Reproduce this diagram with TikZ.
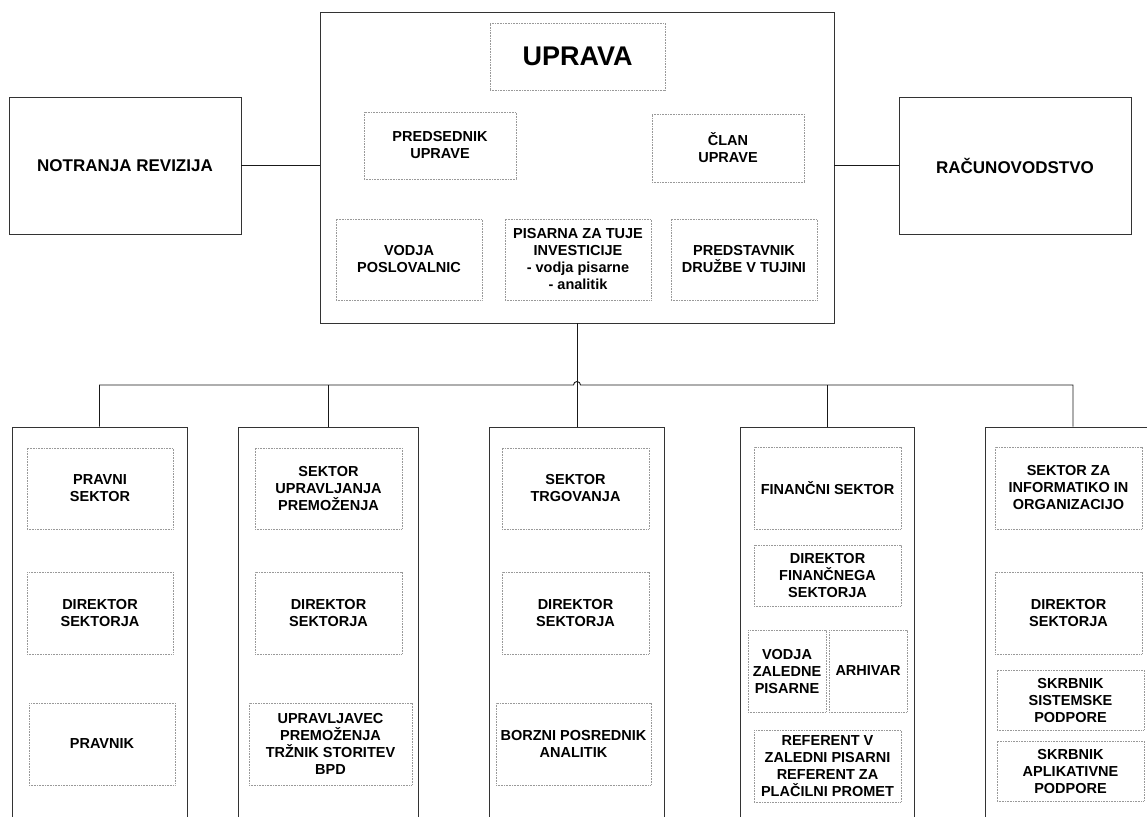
\documentclass[tikz,border=0pt]{standalone}
\usepackage{fontspec}
\setmainfont{Liberation Sans}

\begin{document}
\begin{tikzpicture}[x=1pt,y=-1pt]
  \tikzset{unit/.style = {shape=rectangle,draw=black!80,line width=0.9pt,inner sep=2pt,font=\bfseries\fontsize{17}{20}\selectfont}}
  \tikzset{column/.style = {shape=rectangle,draw=black!80,line width=0.9pt,minimum height=403pt}}
  \tikzset{job/.style = {shape=rectangle,draw=black!40,dash pattern=on 0.8pt off 0.8pt,line width=0.7pt,align=center,inner sep=1pt,font=\bfseries\fontsize{14.5}{17}\selectfont}}
  \tikzset{edge/.style = {draw=black!90,line width=0.9pt}}

  \useasboundingbox (0,0) rectangle (1147,816);
  \clip (0,0) rectangle (1147,816);

  % uprava
	\node[unit,minimum width=514pt,minimum height=311pt] (UP) at (577,167.5) {};
	\node[unit,minimum width=232pt,minimum height=137pt] (NR) at (125,165.5) {NOTRANJA REVIZIJA};
	\node[unit,minimum width=232pt,minimum height=137pt] (RC) at (1015,165.5) {RAČUNOVODSTVO};

	\node[job,minimum width=175pt,minimum height=67pt,font=\bfseries\fontsize{27}{31}\selectfont] (TI) at (577.5,56.5) {UPRAVA};
	\node[job,minimum width=152pt,minimum height=67pt] (PU) at (440,145.5) {PREDSEDNIK\\UPRAVE};
	\node[job,minimum width=152pt,minimum height=68pt] (CU) at (728,148) {ČLAN\\UPRAVE};
	\node[job,minimum width=146pt,minimum height=81pt] (VP) at (409,259.5) {VODJA\\POSLOVALNIC};
	\node[job,minimum width=146pt,minimum height=81pt] (PT) at (578,259.5) {PISARNA ZA TUJE\\INVESTICIJE\\- vodja pisarne\\- analitik};
	\node[job,minimum width=146pt,minimum height=81pt] (PD) at (744,259.5) {PREDSTAVNIK\\DRUŽBE V TUJINI};

  % sektorji
	\node[column,minimum width=175pt] (C1) at (99.5,628.5) {};
	\node[column,minimum width=180pt] (C2) at (328,628.5) {};
	\node[column,minimum width=175pt] (C3) at (577,628.5) {};
	\node[column,minimum width=174pt] (C4) at (827,628.5) {};
	\node[column,minimum width=176pt] (C5) at (1073,628.5) {};

	\node[job,minimum width=146pt,minimum height=81pt] (PS) at (100,488.5) {PRAVNI\\SEKTOR};
	\node[job,minimum width=146pt,minimum height=82pt] (D1) at (100,613) {DIREKTOR\\SEKTORJA};
	\node[job,minimum width=146pt,minimum height=82pt] (PR) at (102,744) {PRAVNIK};

	\node[job,minimum width=147pt,minimum height=81pt] (SU) at (328.5,488.5) {SEKTOR\\UPRAVLJANJA\\PREMOŽENJA};
	\node[job,minimum width=147pt,minimum height=82pt] (D2) at (328.5,613) {DIREKTOR\\SEKTORJA};
	\node[job,minimum width=163pt,minimum height=82pt] (UV) at (330.5,744) {UPRAVLJAVEC\\PREMOŽENJA\\TRŽNIK STORITEV\\BPD};

	\node[job,minimum width=147pt,minimum height=81pt] (ST) at (575.5,488.5) {SEKTOR\\TRGOVANJA};
	\node[job,minimum width=147pt,minimum height=82pt] (D3) at (575.5,613) {DIREKTOR\\SEKTORJA};
	\node[job,minimum width=155pt,minimum height=82pt] (BP) at (573.5,744) {BORZNI POSREDNIK\\ANALITIK};

	\node[job,minimum width=147pt,minimum height=82pt] (FS) at (827.5,488) {FINANČNI SEKTOR};
	\node[job,minimum width=147pt,minimum height=61pt] (DF) at (827.5,575.5) {DIREKTOR\\FINANČNEGA\\SEKTORJA};
	\node[job,minimum width=78pt,minimum height=82pt] (VZ) at (787,671) {VODJA\\ZALEDNE\\PISARNE};
	\node[job,minimum width=78pt,minimum height=82pt] (AR) at (868,671) {ARHIVAR};
	\node[job,minimum width=147pt,minimum height=72pt] (RF) at (827.5,766) {REFERENT V\\ZALEDNI PISARNI\\REFERENT ZA\\PLAČILNI PROMET};

	\node[job,minimum width=147pt,minimum height=82pt] (SI) at (1068.5,488) {SEKTOR ZA\\INFORMATIKO IN\\ORGANIZACIJO};
	\node[job,minimum width=147pt,minimum height=82pt] (D5) at (1068.5,613) {DIREKTOR\\SEKTORJA};
	\node[job,minimum width=147pt,minimum height=60pt] (SS) at (1070.5,700) {SKRBNIK\\SISTEMSKE\\PODPORE};
	\node[job,minimum width=147pt,minimum height=60pt] (SA) at (1070.5,771) {SKRBNIK\\APLIKATIVNE\\PODPORE};

  % povezave
	\draw[edge] (NR.east) -- (NR.east -| UP.west);
	\draw[edge] (RC.west) -- (RC.west -| UP.east);
	\draw[edge] (UP.south) -- (C3.north);
	\coordinate (bus) at (0,385);
	\coordinate (hop) at (UP.south |- bus);
	\draw[edge] (C1.north) -- (C1.north |- bus) -- ([xshift=-3.5pt]hop)
	  arc[start angle=180,end angle=0,radius=3.5pt] -- (C5.north |- bus) -- (C5.north);
	\foreach \col in {C2,C4}
	  \draw[edge] (\col.north) -- (\col.north |- bus);
\end{tikzpicture}
\end{document}
